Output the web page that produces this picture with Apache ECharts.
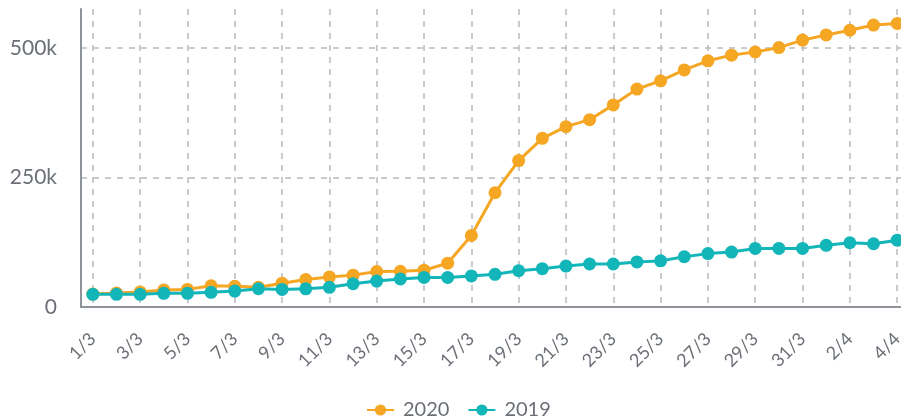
<!DOCTYPE html>
<html>
<head>
<meta charset="utf-8">
<script src="https://cdn.jsdelivr.net/npm/echarts@6/dist/echarts.min.js"></script>
<style>
html,body{margin:0;padding:0;background:#fff;}
#chart{width:901px;height:418px;}
</style>
</head>
<body>
<div id="chart"></div>
<script>
const categories = ['1/3','2/3','3/3','4/3','5/3','6/3','7/3','8/3','9/3','10/3','11/3','12/3','13/3','14/3','15/3','16/3','17/3','18/3','19/3','20/3','21/3','22/3','23/3','24/3','25/3','26/3','27/3','28/3','29/3','30/3','31/3','1/4','2/4','3/4','4/4'];
const values2020 = [25000,27000,29000,33000,34000,41000,40000,38000,46000,53000,58000,61500,68500,69000,71000,84500,138000,220500,282500,325500,348000,361500,390000,420500,436500,457500,475000,486000,492000,500500,515000,525000,534000,544000,547000];
const values2019 = [24400,24500,24500,26300,26300,28300,30800,35200,34000,35000,38000,45000,50000,54000,57000,57000,60000,63000,70000,74000,79000,83000,83000,87000,89000,97000,103000,106000,113000,113000,113000,119000,124000,122000,129000];
const yTicks = [0, 250000, 500000];

const chart = echarts.init(document.getElementById('chart'));
const textColor = '#6b6f76';
const fontFamily = 'Lato';
chart.setOption({
  animation: false,
  grid: {left: 81, top: 9, width: 828, bottom: 111, containLabel: false, outerBoundsMode: 'none'},
  legend: {
    data: ['2020', '2019'],
    left: 366, bottom: -2, padding: 0,
    itemWidth: 27, itemHeight: 14, itemGap: 18,
    textStyle: {color: textColor, fontFamily: fontFamily, fontSize: 20, padding: [0,0,0,4]}
  },
  xAxis: {
    type: 'category',
    data: categories,
    boundaryGap: true,
    axisLine: {lineStyle: {color: '#8e939a', width: 2}},
    axisTick: {show: false},
    axisLabel: {interval: 1, rotate: 45, color: textColor, fontFamily: fontFamily, fontSize: 18, margin: 29},
    splitLine: {show: true, interval: 1, alignWithLabel: true, lineStyle: {color: '#b8bbc0', type: [6, 6], width: 1.5}}
  },
  yAxis: {
    type: 'value',
    min: 0, max: 575000, interval: 250000,
    axisLine: {show: true, lineStyle: {color: '#8e939a', width: 2}},
    axisTick: {show: false},
    axisLabel: {
      color: textColor, fontFamily: fontFamily, fontSize: 21, margin: 24,
      showMaxLabel: false,
      formatter: function (v) { return yTicks.indexOf(v) < 0 ? '' : (v === 0 ? '0' : (v / 1000) + 'k'); }
    },
    splitLine: {show: true, showMaxLine: false, showMinLine: false, lineStyle: {color: '#b8bbc0', type: [6, 6], width: 1.5}}
  },
  series: [
    {
      name: '2020', type: 'line', data: values2020,
      symbol: 'circle', symbolSize: 13,
      itemStyle: {color: '#F5A623'},
      lineStyle: {color: '#F5A623', width: 3}
    },
    {
      name: '2019', type: 'line', data: values2019,
      symbol: 'circle', symbolSize: 13,
      itemStyle: {color: '#12B5B8'},
      lineStyle: {color: '#12B5B8', width: 3}
    }
  ]
});
</script>
</body>
</html>
